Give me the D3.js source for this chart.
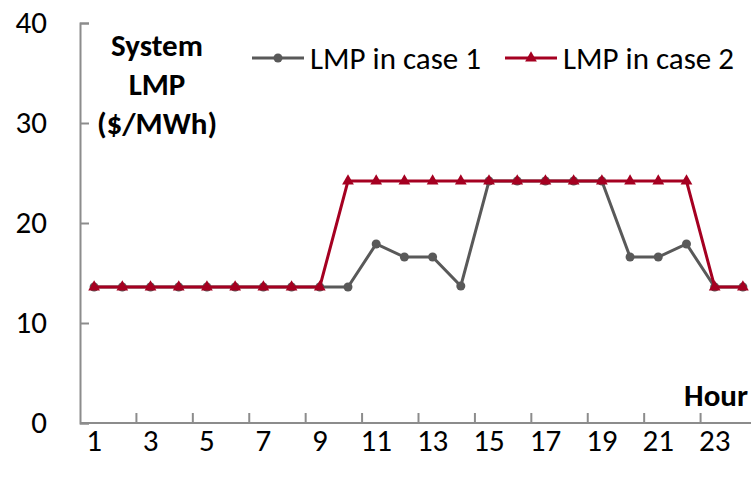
<!DOCTYPE html>
<html>
<head>
<meta charset="utf-8">
<script src="https://cdn.jsdelivr.net/npm/d3@7"></script>
<style>
  body { margin: 0; background: #fff; }
  svg text { font-family: Carlito, "Liberation Sans Narrow", "Liberation Sans", sans-serif; }
</style>
</head>
<body>
<div id="chart"></div>
<script>
const hours = d3.range(1, 25);
const case1 = [13.6, 13.6, 13.6, 13.6, 13.6, 13.6, 13.6, 13.6, 13.6, 13.6, 17.9, 16.6,
               16.6, 13.7, 24.2, 24.2, 24.2, 24.2, 24.2, 16.6, 16.6, 17.9, 13.6, 13.6];
const case2 = [13.6, 13.6, 13.6, 13.6, 13.6, 13.6, 13.6, 13.6, 13.6, 24.2, 24.2, 24.2,
               24.2, 24.2, 24.2, 24.2, 24.2, 24.2, 24.2, 24.2, 24.2, 24.2, 13.6, 13.6];
const yTicks = [0, 10, 20, 30, 40];
const xLabels = [1, 3, 5, 7, 9, 11, 13, 15, 17, 19, 21, 23];

const W = 751, H = 479;
const margin = { top: 23, right: -6, bottom: 56, left: 80 };
const width = W - margin.left - margin.right;
const height = H - margin.top - margin.bottom;

const gray = "#595959", red = "#A50021", axisCol = "#8c8c8c";
const fs = 31;

const svg = d3.select("#chart").append("svg")
    .attr("width", W).attr("height", H)
    .append("g")
    .attr("transform", `translate(${margin.left},${margin.top})`);

const x = d3.scaleBand().domain(hours).range([0, width]);
const y = d3.scaleLinear().domain([0, 40]).range([height, 0]);

// y axis
const yAxis = svg.append("g")
    .call(d3.axisLeft(y).tickValues(yTicks).tickSize(-9).tickPadding(33));
yAxis.select(".domain").attr("stroke", axisCol).attr("stroke-width", 2);
yAxis.selectAll(".tick line").attr("stroke", axisCol).attr("stroke-width", 2);
yAxis.selectAll(".tick text").attr("font-size", fs).attr("fill", "#000")
    .attr("font-family", "Carlito, 'Liberation Sans Narrow', 'Liberation Sans', sans-serif");

// x axis: ticks at every 2nd band boundary
const bounds = d3.range(2, 24, 2).map(i => i * x.step());
svg.append("g").selectAll("line").data(bounds).join("line")
    .attr("x1", d => d).attr("x2", d => d)
    .attr("y1", height).attr("y2", height - 10)
    .attr("stroke", axisCol).attr("stroke-width", 2);
svg.append("line")
    .attr("x1", 0).attr("x2", width + 10)
    .attr("y1", height).attr("y2", height)
    .attr("stroke", axisCol).attr("stroke-width", 2);
svg.append("g").selectAll("text").data(xLabels).join("text")
    .attr("x", d => x(d) + x.bandwidth() / 2)
    .attr("y", height + 28)
    .attr("text-anchor", "middle")
    .attr("font-size", fs)
    .text(d => d);

const line = d3.line()
    .x((d, i) => x(hours[i]) + x.bandwidth() / 2)
    .y(d => y(d));

// case 1
svg.append("path").datum(case1)
    .attr("fill", "none").attr("stroke", gray).attr("stroke-width", 3)
    .attr("d", line);
svg.append("g").selectAll("circle").data(case1).join("circle")
    .attr("cx", (d, i) => x(hours[i]) + x.bandwidth() / 2)
    .attr("cy", d => y(d))
    .attr("r", 4.5).attr("fill", gray);

// case 2
const tri = d3.symbol().type(d3.symbolTriangle).size(60);
svg.append("path").datum(case2)
    .attr("fill", "none").attr("stroke", red).attr("stroke-width", 3)
    .attr("d", line);
svg.append("g").selectAll("path").data(case2).join("path")
    .attr("transform", (d, i) => `translate(${x(hours[i]) + x.bandwidth() / 2},${y(d)})`)
    .attr("d", tri).attr("fill", red);

// y label
const yl = svg.append("text")
    .attr("text-anchor", "middle")
    .attr("font-size", fs).attr("font-weight", "bold");
["System", "LMP", "($/MWh)"].forEach((t, i) => {
    yl.append("tspan").attr("x", 77).attr("y", 33 + i * 39).text(t);
});

// x label
svg.append("text")
    .attr("x", 668).attr("y", height - 17)
    .attr("text-anchor", "end")
    .attr("font-size", fs).attr("font-weight", "bold")
    .text("Hour");

// legend
const legend = svg.append("g").attr("transform", "translate(172,35)");
const items = [
    { label: "LMP in case 1", color: gray, shape: "circle", dx: 0 },
    { label: "LMP in case 2", color: red, shape: "tri", dx: 253 }
];
items.forEach(it => {
    const g = legend.append("g").attr("transform", `translate(${it.dx},0)`);
    g.append("line").attr("x1", 0).attr("x2", 52).attr("y1", 0).attr("y2", 0)
        .attr("stroke", it.color).attr("stroke-width", 3);
    if (it.shape === "circle") {
        g.append("circle").attr("cx", 26).attr("cy", 0).attr("r", 4.5).attr("fill", it.color);
    } else {
        g.append("path").attr("transform", "translate(26,0)").attr("d", tri).attr("fill", it.color);
    }
    g.append("text").attr("x", 58).attr("y", 11).attr("font-size", fs).text(it.label);
});
</script>
</body>
</html>
